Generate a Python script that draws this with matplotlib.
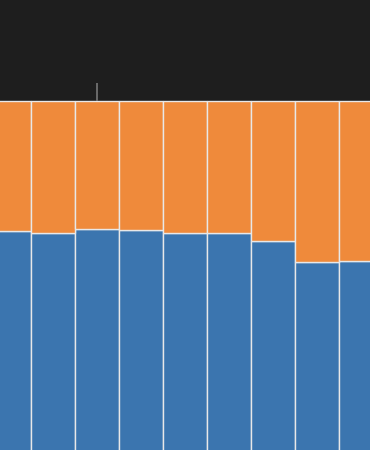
import matplotlib.pyplot as plt
import numpy as np

groups = ["A", "B", "C", "D", "E", "F", "G", "H", "I"]
blue_share = [0.740, 0.736, 0.744, 0.742, 0.736, 0.736, 0.720, 0.678, 0.680]
orange_share = [1 - v for v in blue_share]
top_err = [0, 0, 0.036, 0, 0, 0, 0, 0, 0]

x = np.arange(len(groups))

fig = plt.figure(figsize=(3.7, 4.5), dpi=100)
fig.patch.set_facecolor('#1e1e1e')
ax = fig.add_axes([0, 0, 1, 1])
ax.set_facecolor('#1e1e1e')

ax.bar(x, blue_share, width=1.0, color='#3b75af', edgecolor='#e8e8e8', linewidth=1)
ax.bar(x, orange_share, width=1.0, bottom=blue_share, color='#ef8a3b',
       edgecolor='#e8e8e8', linewidth=1)

tot = np.array(blue_share) + np.array(orange_share)
for xi, t, e in zip(x, tot, top_err):
    if e > 0:
        ax.vlines(xi, t, t + e, color='#777777', linewidth=1.2)

ax.set_xlim(-0.2045, 8.205)
ax.set_ylim(0.302, 1.202)
ax.axis('off')

plt.savefig('out.png', dpi=100, facecolor=fig.get_facecolor())
